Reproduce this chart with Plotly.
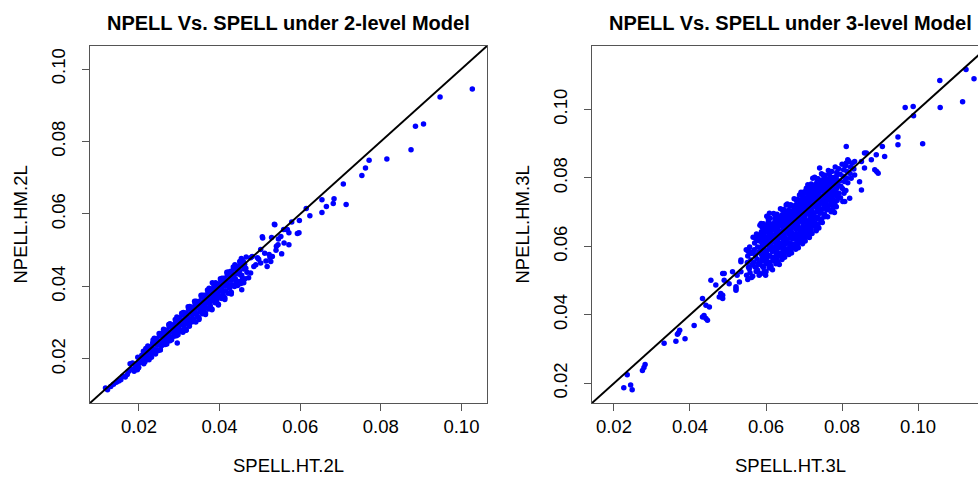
import plotly.graph_objects as go

# ---------------- data: 2-level model ----------------
spell_ht_2l = [
    # sparse lower tail
    0.0117, 0.0122, 0.0130, 0.0137, 0.0144, 0.0150, 0.0155, 0.0160, 0.0166, 0.0171,
    0.0175, 0.0178, 0.0184, 0.0182, 0.0188, 0.0191, 0.0194, 0.0199, 0.0196,
    # dense band
    0.0197, 0.0202, 0.0204, 0.0199, 0.0201, 0.0198,
    0.0211, 0.0206, 0.0209, 0.0212, 0.0207, 0.0210,
    0.0213, 0.0218, 0.0220, 0.0215, 0.0217, 0.0219, 0.0214,
    0.0222, 0.0226, 0.0228, 0.0221, 0.0225, 0.0223, 0.0227,
    0.0235, 0.0230, 0.0233, 0.0236, 0.0231, 0.0234, 0.0229,
    0.0238, 0.0242, 0.0244, 0.0239, 0.0241, 0.0243, 0.0237, 0.0245,
    0.0250, 0.0246, 0.0249, 0.0252, 0.0247, 0.0251, 0.0253, 0.0245,
    0.0254, 0.0258, 0.0260, 0.0255, 0.0257, 0.0259, 0.0253, 0.0261,
    0.0262, 0.0266, 0.0268, 0.0263, 0.0265, 0.0267, 0.0261, 0.0269,
    0.0274, 0.0270, 0.0273, 0.0276, 0.0271, 0.0275, 0.0277, 0.0269,
    0.0278, 0.0282, 0.0284, 0.0279, 0.0281, 0.0283, 0.0277, 0.0285,
    0.0290, 0.0286, 0.0289, 0.0292, 0.0287, 0.0291, 0.0293, 0.0285,
    0.0294, 0.0298, 0.0300, 0.0295, 0.0297, 0.0299, 0.0293, 0.0301,
    0.0306, 0.0302, 0.0305, 0.0308, 0.0303, 0.0307, 0.0309, 0.0301, 0.0295,
    0.0310, 0.0314, 0.0316, 0.0311, 0.0313, 0.0315, 0.0309, 0.0317,
    0.0322, 0.0318, 0.0321, 0.0324, 0.0319, 0.0323, 0.0325, 0.0317,
    0.0326, 0.0330, 0.0332, 0.0327, 0.0329, 0.0331, 0.0325, 0.0333,
    0.0338, 0.0334, 0.0337, 0.0340, 0.0335, 0.0339, 0.0341, 0.0333,
    0.0342, 0.0346, 0.0348, 0.0343, 0.0345, 0.0347, 0.0341, 0.0349,
    0.0354, 0.0350, 0.0353, 0.0356, 0.0351, 0.0355, 0.0357, 0.0349, 0.0358,
    0.0358, 0.0362, 0.0364, 0.0359, 0.0361, 0.0363, 0.0357, 0.0365,
    0.0370, 0.0366, 0.0369, 0.0372, 0.0367, 0.0371, 0.0373, 0.0365, 0.0374,
    0.0374, 0.0378, 0.0380, 0.0375, 0.0377, 0.0379, 0.0373, 0.0381,
    0.0386, 0.0382, 0.0385, 0.0388, 0.0383, 0.0387, 0.0389, 0.0381, 0.0390,
    0.0390, 0.0394, 0.0396, 0.0391, 0.0393, 0.0395, 0.0389, 0.0397,
    0.0402, 0.0398, 0.0401, 0.0404, 0.0399, 0.0403, 0.0405, 0.0397, 0.0406,
    0.0406, 0.0410, 0.0412, 0.0407, 0.0409, 0.0411, 0.0405, 0.0413,
    0.0418, 0.0414, 0.0417, 0.0420, 0.0415, 0.0419, 0.0421, 0.0413, 0.0422,
    0.0422, 0.0426, 0.0428, 0.0423, 0.0425, 0.0427, 0.0421, 0.0429,
    0.0434, 0.0430, 0.0433, 0.0436, 0.0431, 0.0435, 0.0437, 0.0429,
    0.0438, 0.0442, 0.0444, 0.0439, 0.0441, 0.0443, 0.0445, 0.0437,
    0.0450, 0.0446, 0.0449, 0.0452, 0.0447, 0.0451, 0.0453,
    0.0454, 0.0458, 0.0460, 0.0455, 0.0457, 0.0459,
    0.0466, 0.0462, 0.0465, 0.0468, 0.0463,
    # sparse upper part
    0.0481, 0.0507, 0.0529, 0.0541, 0.0554, 0.0531, 0.0572, 0.0546, 0.0536, 0.0565,
    0.0572, 0.0593, 0.0502, 0.0506, 0.0552, 0.0545, 0.0523, 0.0527, 0.0494, 0.0477,
    0.0502, 0.0477, 0.0472, 0.0460, 0.0455, 0.0428, 0.0382, 0.0515, 0.0490, 0.0518,
    0.1027, 0.0947, 0.0886, 0.0906, 0.0875, 0.0815, 0.0771, 0.0762, 0.0753, 0.0707,
    0.0714, 0.0684, 0.0682, 0.0665, 0.0654, 0.0654, 0.0624, 0.0615, 0.0598, 0.0579,
    0.0537, 0.0597, 0.0568, 0.0559, 0.0485, 0.0497, 0.0512, 0.0525, 0.0540, 0.0560,
]
npell_hm_2l = [
    0.0120, 0.0115, 0.0124, 0.0130, 0.0136, 0.0139, 0.0143, 0.0152, 0.0150, 0.0157,
    0.0166, 0.0187, 0.0189, 0.0172, 0.0166, 0.0178, 0.0184, 0.0176, 0.0170,
    0.0205, 0.0199, 0.0190, 0.0177, 0.0203, 0.0189,
    0.0221, 0.0200, 0.0191, 0.0187, 0.0210, 0.0199,
    0.0219, 0.0216, 0.0205, 0.0192, 0.0229, 0.0210, 0.0209,
    0.0236, 0.0227, 0.0216, 0.0201, 0.0198, 0.0230, 0.0221,
    0.0252, 0.0234, 0.0225, 0.0217, 0.0205, 0.0244, 0.0226,
    0.0257, 0.0250, 0.0239, 0.0223, 0.0214, 0.0256, 0.0227, 0.0224,
    0.0270, 0.0252, 0.0247, 0.0239, 0.0223, 0.0265, 0.0225, 0.0238,
    0.0270, 0.0268, 0.0256, 0.0244, 0.0237, 0.0262, 0.0226, 0.0282,
    0.0280, 0.0271, 0.0260, 0.0246, 0.0240, 0.0279, 0.0258, 0.0241,
    0.0295, 0.0279, 0.0272, 0.0262, 0.0249, 0.0290, 0.0250, 0.0262,
    0.0295, 0.0285, 0.0274, 0.0260, 0.0253, 0.0294, 0.0297, 0.0280,
    0.0309, 0.0293, 0.0285, 0.0277, 0.0263, 0.0304, 0.0264, 0.0274,
    0.0316, 0.0302, 0.0293, 0.0277, 0.0267, 0.0314, 0.0281, 0.0277,
    0.0326, 0.0311, 0.0303, 0.0294, 0.0278, 0.0321, 0.0274, 0.0281, 0.0244,
    0.0328, 0.0319, 0.0307, 0.0294, 0.0285, 0.0327, 0.0306, 0.0280,
    0.0344, 0.0326, 0.0316, 0.0311, 0.0297, 0.0338, 0.0294, 0.0279,
    0.0345, 0.0332, 0.0322, 0.0308, 0.0303, 0.0343, 0.0290, 0.0329,
    0.0359, 0.0341, 0.0334, 0.0325, 0.0311, 0.0353, 0.0302, 0.0303,
    0.0359, 0.0350, 0.0340, 0.0325, 0.0317, 0.0358, 0.0340, 0.0313,
    0.0376, 0.0359, 0.0347, 0.0343, 0.0330, 0.0371, 0.0325, 0.0309, 0.0333,
    0.0376, 0.0365, 0.0353, 0.0339, 0.0332, 0.0376, 0.0353, 0.0327,
    0.0390, 0.0373, 0.0367, 0.0356, 0.0342, 0.0383, 0.0338, 0.0323, 0.0366,
    0.0395, 0.0383, 0.0371, 0.0356, 0.0347, 0.0393, 0.0370, 0.0338,
    0.0404, 0.0391, 0.0380, 0.0374, 0.0360, 0.0400, 0.0355, 0.0336, 0.0363,
    0.0410, 0.0396, 0.0384, 0.0370, 0.0362, 0.0406, 0.0383, 0.0351,
    0.0421, 0.0404, 0.0398, 0.0387, 0.0373, 0.0416, 0.0367, 0.0349, 0.0397,
    0.0423, 0.0414, 0.0402, 0.0387, 0.0376, 0.0423, 0.0403, 0.0369,
    0.0439, 0.0422, 0.0411, 0.0405, 0.0388, 0.0433, 0.0381, 0.0364, 0.0400,
    0.0440, 0.0429, 0.0417, 0.0404, 0.0395, 0.0437, 0.0417, 0.0384,
    0.0454, 0.0437, 0.0429, 0.0420, 0.0405, 0.0448, 0.0400, 0.0379,
    0.0460, 0.0447, 0.0435, 0.0421, 0.0412, 0.0455, 0.0403, 0.0434,
    0.0469, 0.0452, 0.0442, 0.0432, 0.0414, 0.0462, 0.0408,
    0.0477, 0.0460, 0.0448, 0.0431, 0.0421, 0.0469,
    0.0481, 0.0461, 0.0450, 0.0439, 0.0421,
    0.0483, 0.0534, 0.0535, 0.0511, 0.0490, 0.0483, 0.0515, 0.0531, 0.0572, 0.0557,
    0.0548, 0.0546, 0.0502, 0.0537, 0.0538, 0.0515, 0.0488, 0.0469, 0.0479, 0.0479,
    0.0465, 0.0437, 0.0424, 0.0410, 0.0391, 0.0442, 0.0410, 0.0470, 0.0460, 0.0455,
    0.0945, 0.0923, 0.0842, 0.0848, 0.0777, 0.0752, 0.0748, 0.0727, 0.0706, 0.0683,
    0.0626, 0.0642, 0.0629, 0.0621, 0.0639, 0.0604, 0.0595, 0.0615, 0.0582, 0.0578,
    0.0570, 0.0548, 0.0557, 0.0557, 0.0455, 0.0475, 0.0492, 0.0480, 0.0500, 0.0520,
]

# ---------------- data: 3-level model ----------------
spell_ht_3l = [
    # sparse lower / middle part
    0.0226, 0.0235, 0.0244, 0.0248, 0.0275, 0.0282, 0.0279, 0.0332, 0.0363, 0.0387,
    0.0367, 0.0373, 0.0370, 0.0411, 0.0433, 0.0437, 0.0442, 0.0446, 0.0433, 0.0442,
    0.0451, 0.0481, 0.0486, 0.0477, 0.0521, 0.0455, 0.0468, 0.0490, 0.0503, 0.0521,
    0.0534, 0.0530, 0.0552, 0.0534, 0.0561, 0.0574, 0.0600, 0.0486, 0.0490, 0.0512,
    0.0524, 0.0486, 0.0534, 0.0565, 0.0587, 0.0587, 0.0609, 0.0578, 0.0521, 0.0556,
    0.0572, 0.0591, 0.0627, 0.0653, 0.0688, 0.0666, 0.0710,
    # dense cloud
    0.0548, 0.0552, 0.0551, 0.0554, 0.0549, 0.0553,
    0.0557, 0.0561, 0.0560, 0.0563, 0.0558, 0.0562, 0.0556,
    0.0566, 0.0570, 0.0569, 0.0572, 0.0567, 0.0571, 0.0565, 0.0573,
    0.0575, 0.0579, 0.0578, 0.0581, 0.0576, 0.0580, 0.0574, 0.0582, 0.0577,
    0.0584, 0.0588, 0.0587, 0.0590, 0.0585, 0.0589, 0.0583, 0.0591, 0.0586, 0.0590,
    0.0593, 0.0597, 0.0596, 0.0599, 0.0594, 0.0598, 0.0592, 0.0600, 0.0595, 0.0599, 0.0597,
    0.0602, 0.0606, 0.0605, 0.0608, 0.0603, 0.0607, 0.0601, 0.0609, 0.0604, 0.0608, 0.0606,
    0.0611, 0.0615, 0.0614, 0.0617, 0.0612, 0.0616, 0.0610, 0.0618, 0.0613, 0.0617, 0.0609,
    0.0620, 0.0624, 0.0623, 0.0626, 0.0621, 0.0625, 0.0619, 0.0627, 0.0622, 0.0626, 0.0624,
    0.0629, 0.0633, 0.0632, 0.0635, 0.0630, 0.0634, 0.0628, 0.0636, 0.0631, 0.0635, 0.0633,
    0.0638, 0.0642, 0.0641, 0.0644, 0.0639, 0.0643, 0.0637, 0.0645, 0.0640, 0.0644, 0.0642,
    0.0647, 0.0651, 0.0650, 0.0653, 0.0648, 0.0652, 0.0646, 0.0654, 0.0649, 0.0653,
    0.0656, 0.0660, 0.0659, 0.0662, 0.0657, 0.0661, 0.0655, 0.0663, 0.0658, 0.0662, 0.0660,
    0.0665, 0.0669, 0.0668, 0.0671, 0.0666, 0.0670, 0.0664, 0.0672, 0.0667, 0.0671,
    0.0674, 0.0678, 0.0677, 0.0680, 0.0675, 0.0679, 0.0673, 0.0681, 0.0676, 0.0680, 0.0678,
    0.0683, 0.0687, 0.0686, 0.0689, 0.0684, 0.0688, 0.0682, 0.0690, 0.0685, 0.0689,
    0.0692, 0.0696, 0.0695, 0.0698, 0.0693, 0.0697, 0.0691, 0.0699, 0.0694, 0.0698, 0.0696,
    0.0701, 0.0705, 0.0704, 0.0707, 0.0702, 0.0706, 0.0700, 0.0708, 0.0703, 0.0707,
    0.0710, 0.0714, 0.0713, 0.0716, 0.0711, 0.0715, 0.0709, 0.0717, 0.0712, 0.0716, 0.0714,
    0.0719, 0.0723, 0.0722, 0.0725, 0.0720, 0.0724, 0.0718, 0.0726, 0.0721, 0.0725,
    0.0728, 0.0732, 0.0731, 0.0734, 0.0729, 0.0733, 0.0727, 0.0735, 0.0730, 0.0734, 0.0732,
    0.0737, 0.0741, 0.0740, 0.0743, 0.0738, 0.0742, 0.0736, 0.0744, 0.0739, 0.0743,
    0.0746, 0.0750, 0.0749, 0.0752, 0.0747, 0.0751, 0.0745, 0.0753, 0.0748, 0.0752,
    0.0755, 0.0759, 0.0758, 0.0761, 0.0756, 0.0760, 0.0754, 0.0762, 0.0757,
    0.0764, 0.0768, 0.0767, 0.0770, 0.0765, 0.0769, 0.0763, 0.0771, 0.0766,
    0.0773, 0.0777, 0.0776, 0.0779, 0.0774, 0.0778, 0.0772, 0.0780,
    0.0782, 0.0786, 0.0785, 0.0788, 0.0783, 0.0787, 0.0781,
    0.0791, 0.0795, 0.0794, 0.0797, 0.0792, 0.0796,
    0.0800, 0.0804, 0.0803, 0.0806, 0.0801, 0.0805,
    0.0809, 0.0813, 0.0812, 0.0815, 0.0810,
    0.0818, 0.0822, 0.0821, 0.0824,
    0.0827, 0.0831, 0.0833,
    # dense cloud, in-between points of the core
    0.0587, 0.0585, 0.0588, 0.0586, 0.0589, 0.0584,
    0.0596, 0.0594, 0.0597, 0.0595, 0.0598, 0.0593,
    0.0605, 0.0603, 0.0606, 0.0604, 0.0607, 0.0602,
    0.0614, 0.0612, 0.0615, 0.0613, 0.0616, 0.0611,
    0.0623, 0.0621, 0.0624, 0.0622, 0.0625, 0.0620,
    0.0632, 0.0630, 0.0633, 0.0631, 0.0634, 0.0629,
    0.0641, 0.0639, 0.0642, 0.0640, 0.0643, 0.0638,
    0.0650, 0.0648, 0.0651, 0.0649, 0.0652, 0.0647,
    0.0659, 0.0657, 0.0660, 0.0658, 0.0661, 0.0656,
    0.0668, 0.0666, 0.0669, 0.0667, 0.0670, 0.0665,
    0.0677, 0.0675, 0.0678, 0.0676, 0.0679, 0.0674,
    0.0686, 0.0684, 0.0687, 0.0685, 0.0688, 0.0683,
    0.0695, 0.0693, 0.0696, 0.0694, 0.0697, 0.0692,
    0.0704, 0.0702, 0.0705, 0.0703, 0.0706, 0.0701,
    0.0713, 0.0711, 0.0714, 0.0712, 0.0715, 0.0710,
    0.0722, 0.0720, 0.0723, 0.0721, 0.0724, 0.0719,
    0.0731, 0.0729, 0.0732, 0.0730, 0.0733, 0.0728,
    0.0740, 0.0738, 0.0741, 0.0739, 0.0742, 0.0737,
    0.0749, 0.0747, 0.0750, 0.0748, 0.0751, 0.0746,
    0.0758, 0.0756, 0.0759, 0.0757, 0.0760,
    0.0767, 0.0765, 0.0768, 0.0766, 0.0769,
    0.0776, 0.0774, 0.0777, 0.0775, 0.0778,
    0.0785, 0.0783, 0.0786, 0.0784, 0.0787,
    # sparse upper part
    0.0811, 0.0947, 0.0947, 0.1012, 0.0906, 0.0890, 0.0912, 0.0877, 0.0859, 0.0851,
    0.0833, 0.0859, 0.0886, 0.0895, 0.0815, 0.0741, 0.0750, 0.0846, 0.0851, 0.0820,
    0.0802, 0.0723, 0.0706, 0.0776, 0.0754, 0.0966, 0.0987, 0.0988, 0.1057, 0.1058,
    0.1117, 0.1126, 0.1147, 0.0811, 0.0864, 0.0891, 0.0785, 0.0807,
]
npell_hm_3l = [
    0.0187, 0.0225, 0.0195, 0.0181, 0.0237, 0.0255, 0.0246, 0.0317, 0.0323, 0.0330,
    0.0343, 0.0355, 0.0348, 0.0369, 0.0394, 0.0398, 0.0389, 0.0384, 0.0448, 0.0428,
    0.0423, 0.0462, 0.0448, 0.0452, 0.0472, 0.0501, 0.0487, 0.0521, 0.0491, 0.0477,
    0.0526, 0.0496, 0.0503, 0.0555, 0.0580, 0.0540, 0.0526, 0.0521, 0.0501, 0.0526,
    0.0516, 0.0457, 0.0560, 0.0584, 0.0638, 0.0667, 0.0697, 0.0530, 0.0482, 0.0535,
    0.0575, 0.0604, 0.0565, 0.0721, 0.0750, 0.0594, 0.0628,
    0.0590, 0.0572, 0.0553, 0.0539, 0.0516, 0.0586,
    0.0598, 0.0580, 0.0560, 0.0546, 0.0523, 0.0509, 0.0585,
    0.0627, 0.0610, 0.0590, 0.0575, 0.0553, 0.0540, 0.0513, 0.0623,
    0.0636, 0.0617, 0.0598, 0.0584, 0.0563, 0.0551, 0.0527, 0.0516, 0.0626,
    0.0662, 0.0643, 0.0623, 0.0607, 0.0586, 0.0574, 0.0552, 0.0542, 0.0520, 0.0655,
    0.0666, 0.0649, 0.0629, 0.0614, 0.0593, 0.0580, 0.0558, 0.0549, 0.0526, 0.0516, 0.0658,
    0.0688, 0.0672, 0.0652, 0.0637, 0.0616, 0.0603, 0.0581, 0.0572, 0.0549, 0.0537, 0.0681,
    0.0682, 0.0665, 0.0645, 0.0630, 0.0609, 0.0596, 0.0573, 0.0564, 0.0542, 0.0532, 0.0668,
    0.0696, 0.0681, 0.0661, 0.0645, 0.0624, 0.0611, 0.0588, 0.0579, 0.0558, 0.0549, 0.0690,
    0.0694, 0.0677, 0.0658, 0.0642, 0.0621, 0.0608, 0.0585, 0.0576, 0.0556, 0.0547, 0.0687,
    0.0710, 0.0692, 0.0672, 0.0657, 0.0636, 0.0623, 0.0600, 0.0591, 0.0571, 0.0705, 0.0562,
    0.0708, 0.0690, 0.0669, 0.0654, 0.0633, 0.0620, 0.0597, 0.0588, 0.0568, 0.0703,
    0.0724, 0.0706, 0.0685, 0.0670, 0.0649, 0.0636, 0.0612, 0.0603, 0.0583, 0.0719, 0.0576,
    0.0722, 0.0704, 0.0683, 0.0668, 0.0647, 0.0634, 0.0610, 0.0601, 0.0581, 0.0717,
    0.0739, 0.0721, 0.0700, 0.0685, 0.0663, 0.0650, 0.0626, 0.0617, 0.0597, 0.0734, 0.0592,
    0.0738, 0.0720, 0.0699, 0.0684, 0.0662, 0.0649, 0.0625, 0.0616, 0.0596, 0.0733,
    0.0758, 0.0740, 0.0719, 0.0704, 0.0682, 0.0669, 0.0645, 0.0636, 0.0615, 0.0753, 0.0608,
    0.0760, 0.0742, 0.0721, 0.0706, 0.0684, 0.0671, 0.0647, 0.0638, 0.0616, 0.0755,
    0.0780, 0.0762, 0.0741, 0.0726, 0.0704, 0.0691, 0.0667, 0.0658, 0.0636, 0.0775, 0.0626,
    0.0782, 0.0764, 0.0743, 0.0728, 0.0706, 0.0693, 0.0669, 0.0660, 0.0638, 0.0777,
    0.0802, 0.0784, 0.0763, 0.0748, 0.0726, 0.0713, 0.0689, 0.0680, 0.0658, 0.0797, 0.0646,
    0.0798, 0.0780, 0.0759, 0.0744, 0.0722, 0.0709, 0.0685, 0.0676, 0.0654, 0.0792,
    0.0812, 0.0794, 0.0773, 0.0758, 0.0736, 0.0723, 0.0699, 0.0690, 0.0670, 0.0806,
    0.0808, 0.0790, 0.0769, 0.0754, 0.0732, 0.0719, 0.0695, 0.0687, 0.0798,
    0.0822, 0.0804, 0.0783, 0.0768, 0.0746, 0.0733, 0.0709, 0.0701, 0.0812,
    0.0819, 0.0801, 0.0780, 0.0765, 0.0743, 0.0730, 0.0706, 0.0699,
    0.0832, 0.0816, 0.0795, 0.0780, 0.0758, 0.0745, 0.0723,
    0.0827, 0.0811, 0.0791, 0.0776, 0.0755, 0.0742,
    0.0840, 0.0824, 0.0805, 0.0790, 0.0769, 0.0755,
    0.0835, 0.0819, 0.0800, 0.0786, 0.0763,
    0.0848, 0.0832, 0.0813, 0.0799,
    0.0843, 0.0826, 0.0809,
    0.0633, 0.0615, 0.0597, 0.0580, 0.0563, 0.0547,
    0.0639, 0.0622, 0.0604, 0.0587, 0.0569, 0.0538,
    0.0662, 0.0645, 0.0627, 0.0610, 0.0592, 0.0561,
    0.0655, 0.0638, 0.0620, 0.0603, 0.0585, 0.0553,
    0.0671, 0.0653, 0.0634, 0.0617, 0.0600, 0.0568,
    0.0667, 0.0650, 0.0631, 0.0614, 0.0596, 0.0566,
    0.0682, 0.0664, 0.0646, 0.0629, 0.0611, 0.0581,
    0.0679, 0.0661, 0.0643, 0.0626, 0.0608, 0.0578,
    0.0695, 0.0677, 0.0659, 0.0642, 0.0624, 0.0593,
    0.0693, 0.0675, 0.0657, 0.0640, 0.0622, 0.0591,
    0.0710, 0.0692, 0.0674, 0.0656, 0.0638, 0.0607,
    0.0709, 0.0691, 0.0673, 0.0655, 0.0637, 0.0606,
    0.0729, 0.0711, 0.0693, 0.0675, 0.0657, 0.0625,
    0.0731, 0.0713, 0.0695, 0.0677, 0.0659, 0.0627,
    0.0751, 0.0733, 0.0715, 0.0697, 0.0679, 0.0647,
    0.0753, 0.0735, 0.0717, 0.0699, 0.0681, 0.0649,
    0.0773, 0.0755, 0.0737, 0.0719, 0.0701, 0.0669,
    0.0769, 0.0751, 0.0733, 0.0715, 0.0697, 0.0665,
    0.0783, 0.0765, 0.0747, 0.0729, 0.0711, 0.0680,
    0.0779, 0.0761, 0.0743, 0.0725, 0.0707,
    0.0793, 0.0775, 0.0757, 0.0739, 0.0721,
    0.0790, 0.0772, 0.0754, 0.0736, 0.0718,
    0.0805, 0.0787, 0.0769, 0.0751, 0.0734,
    0.0892, 0.0920, 0.0897, 0.0900, 0.0892, 0.0868, 0.0863, 0.0853, 0.0873, 0.0848,
    0.0848, 0.0829, 0.0824, 0.0814, 0.0853, 0.0829, 0.0809, 0.0789, 0.0765, 0.0741,
    0.0731, 0.0799, 0.0770, 0.0711, 0.0687, 0.1006, 0.1009, 0.0982, 0.1085, 0.1006,
    0.1023, 0.1117, 0.1090, 0.0844, 0.0873, 0.0819, 0.0716, 0.0731,
]

assert len(spell_ht_2l) == len(npell_hm_2l), (len(spell_ht_2l), len(npell_hm_2l))
assert len(spell_ht_3l) == len(npell_hm_3l), (len(spell_ht_3l), len(npell_hm_3l))

tick_vals = [0.02, 0.04, 0.06, 0.08, 0.10]
tick_text = ["0.02", "0.04", "0.06", "0.08", "0.10"]

titles = ["NPELL Vs. SPELL under 2-level Model", "NPELL Vs. SPELL under 3-level Model"]
x_titles = ["SPELL.HT.2L", "SPELL.HT.3L"]
y_titles = ["NPELL.HM.2L", "NPELL.HM.3L"]

FONT = "Liberation Sans, Arial, Helvetica, sans-serif"
W, H = 978, 477


def r_limits(xs, ys):
    lo = min(min(xs), min(ys))
    hi = max(max(xs), max(ys))
    pad = 0.04 * (hi - lo)
    return lo - pad, hi + pad


lim1 = r_limits(spell_ht_2l, npell_hm_2l)
lim2 = r_limits(spell_ht_3l, npell_hm_3l)

# panel pixel geometry
p1_left, p1_right = 90, 487
p2_left, p2_full_right = 592, 988.7
p_top, p_bottom = 46, 403

# right panel is cut off by the window edge
vis_frac = (W - p2_left) / (p2_full_right - p2_left)
x2_range = [lim2[0], lim2[0] + (lim2[1] - lim2[0]) * vis_frac]

fig = go.Figure()

marker = dict(color="#0000FF", size=5.5, line=dict(width=0))
fig.add_trace(go.Scatter(x=spell_ht_2l, y=npell_hm_2l, mode="markers", marker=marker,
                         xaxis="x", yaxis="y", hoverinfo="skip"))
fig.add_trace(go.Scatter(x=list(lim1), y=list(lim1), mode="lines",
                         line=dict(color="black", width=2),
                         xaxis="x", yaxis="y", hoverinfo="skip"))
fig.add_trace(go.Scatter(x=spell_ht_3l, y=npell_hm_3l, mode="markers", marker=marker,
                         xaxis="x2", yaxis="y2", hoverinfo="skip"))
fig.add_trace(go.Scatter(x=list(lim2), y=list(lim2), mode="lines",
                         line=dict(color="black", width=2),
                         xaxis="x2", yaxis="y2", hoverinfo="skip"))

ydom = [(H - p_bottom) / H, (H - p_top) / H]
axis_common = dict(
    showgrid=False, zeroline=False, showline=True, linecolor="#555555", linewidth=1,
    ticks="outside", ticklen=7, tickwidth=1, tickcolor="#555555",
    tickvals=tick_vals, ticktext=tick_text,
    tickfont=dict(family=FONT, size=18.5, color="black"),
)

fig.update_layout(
    width=W, height=H,
    margin=dict(l=0, r=0, t=0, b=0),
    paper_bgcolor="white", plot_bgcolor="white",
    showlegend=False,
    xaxis=dict(domain=[p1_left / W, p1_right / W], range=list(lim1), mirror=True,
               anchor="y", ticklabelstandoff=0, **axis_common),
    yaxis=dict(domain=ydom, range=list(lim1), mirror=True, anchor="x",
               tickangle=-90, ticklabelstandoff=10, **axis_common),
    xaxis2=dict(domain=[p2_left / W, 1.0], range=x2_range, mirror=True,
                anchor="y2", ticklabelstandoff=0, **axis_common),
    yaxis2=dict(domain=ydom, range=list(lim2), mirror=False, anchor="x2",
                tickangle=-90, ticklabelstandoff=10, **axis_common),
)

c1 = (p1_left + p1_right) / 2
c2 = (p2_left + p2_full_right) / 2
centers = [c1, c2]
ylab_x = [20, 522]
for i in range(2):
    fig.add_annotation(text=titles[i], x=centers[i] / W, y=(H - 23) / H,
                       xref="paper", yref="paper", showarrow=False,
                       xanchor="center", yanchor="middle",
                       font=dict(family=FONT, size=20, color="black", weight="bold"))
    fig.add_annotation(text=x_titles[i], x=centers[i] / W, y=(H - 465) / H,
                       xref="paper", yref="paper", showarrow=False,
                       xanchor="center", yanchor="middle",
                       font=dict(family=FONT, size=18.5, color="black"))
    fig.add_annotation(text=y_titles[i], x=ylab_x[i] / W, y=(H - (p_top + p_bottom) / 2) / H,
                       xref="paper", yref="paper", showarrow=False, textangle=-90,
                       xanchor="center", yanchor="middle",
                       font=dict(family=FONT, size=18.5, color="black"))

fig.write_html("out.html", config={"displayModeBar": False})
